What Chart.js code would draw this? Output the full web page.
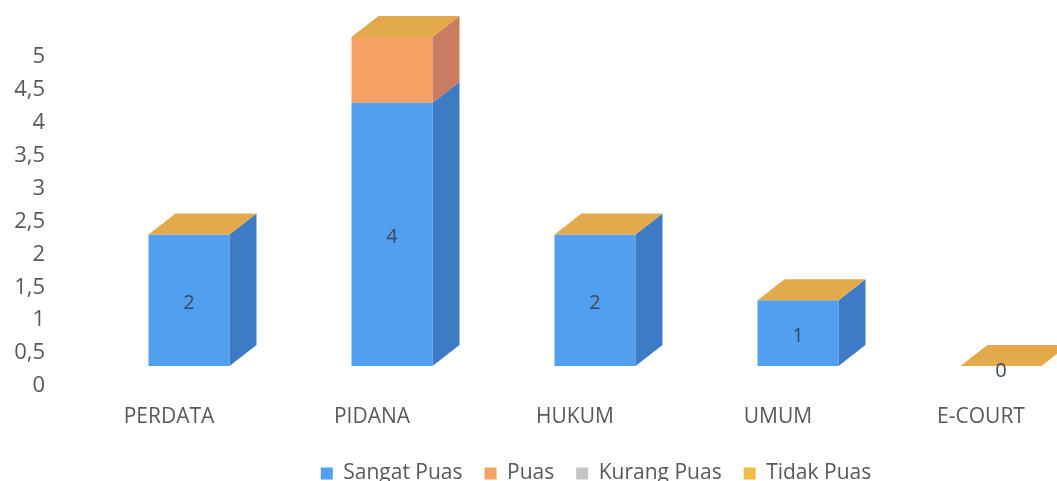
<!DOCTYPE html>
<html>
<head>
<meta charset="utf-8">
<style>
html,body{margin:0;padding:0;background:#fff;overflow:hidden;width:1057px;height:481px}
#wrap{position:relative;width:1057px;height:481px;overflow:hidden}
canvas{display:block;filter:blur(0.5px)}
</style>
<script src="https://cdn.jsdelivr.net/npm/chart.js@4"></script>
</head>
<body>
<div id="wrap"><canvas id="c" width="1192" height="481"></canvas></div>
<script>
const categories = ['PERDATA','PIDANA','HUKUM','UMUM','E-COURT'];
const seriesNames = ['Sangat Puas','Puas','Kurang Puas','Tidak Puas'];
const sangatPuas = [2,4,2,1,0];
const puas = [0,1,0,0,0];
const kurangPuas = [0,0,0,0,0];
const tidakPuas = [0,0,0,0,0];
const frontColors = ['#529ff0','#f5a264','#c4c4c4','#eebd45'];
const sideColors = ['#3d7cc4','#c97c62','#9a9a9a','#c89a30'];
const topColor = '#e3aa4b';
const textColor = '#595959';
const fontFamily = '"Open Sans", sans-serif';
const shiftX = 20, liftY = 20, depthX = 27, depthY = 21;

function poly(ctx, pts, color){
  ctx.beginPath();
  pts.forEach((p,i)=> i ? ctx.lineTo(p[0],p[1]) : ctx.moveTo(p[0],p[1]));
  ctx.closePath();
  ctx.fillStyle = color;
  ctx.fill();
}

const bars3d = {
  id:'bars3d',
  afterLayout(chart){
    chart.legend.left += 109.5;
  },
  beforeDatasetsDraw(chart){
    chart.ctx.save();
    chart.ctx.translate(shiftX,-liftY);
  },
  afterDatasetsDraw(chart){
    const ctx = chart.ctx;
    const metas = chart.data.datasets.map((d,i)=>chart.getDatasetMeta(i));
    metas.forEach((m,di)=>{
      m.data.forEach(el=>{
        const p = el.getProps(['x','y','base','width'],true);
        if (Math.abs(p.base-p.y) < 0.5) return;
        const r = p.x+p.width/2;
        poly(ctx,[[r,p.y],[r+depthX,p.y-depthY],[r+depthX,p.base-depthY],[r,p.base]],sideColors[di]);
      });
    });
    const last = metas[metas.length-1];
    last.data.forEach(el=>{
      const p = el.getProps(['x','y','width'],true);
      const l = p.x-p.width/2, r = p.x+p.width/2;
      poly(ctx,[[l,p.y],[r,p.y],[r+depthX,p.y-depthY],[l+depthX,p.y-depthY]],topColor);
    });
    ctx.font = '20px '+fontFamily;
    ctx.fillStyle = '#3b4a60';
    ctx.textAlign = 'center';
    ctx.textBaseline = 'middle';
    metas[0].data.forEach((el,i)=>{
      const p = el.getProps(['x','y','base'],true);
      const v = sangatPuas[i];
      ctx.fillText(String(v), p.x, v===0 ? p.base+5 : (p.y+p.base)/2+3);
    });
    ctx.restore();
  }
};

new Chart(document.getElementById('c'),{
  type:'bar',
  data:{
    labels:categories,
    datasets:[sangatPuas,puas,kurangPuas,tidakPuas].map((vals,i)=>({
      label:seriesNames[i],
      data:vals,
      backgroundColor:frontColors[i],
      borderWidth:0,
      barPercentage:1,
      categoryPercentage:0.399
    }))
  },
  plugins:[bars3d],
  options:{
    responsive:false,
    animation:false,
    layout:{padding:{top:57,right:109.5,left:0,bottom:-13}},
    plugins:{
      legend:{
        position:'bottom',
        labels:{boxWidth:12,boxHeight:12,padding:22,color:textColor,font:{family:fontFamily,size:21}}
      },
      tooltip:{enabled:false}
    },
    scales:{
      x:{
        stacked:true,
        afterFit(s){s.height=55;},
        grid:{display:false},
        border:{display:false},
        ticks:{color:textColor,padding:10,maxRotation:0,font:{family:fontFamily,size:21}}
      },
      y:{
        stacked:true,
        min:0,max:5,
        afterFit(s){s.width=67.5;},
        grid:{display:false,drawTicks:false},
        border:{display:false},
        ticks:{
          stepSize:0.5,
          padding:22.5,
          color:textColor,
          font:{family:fontFamily,size:22},
          callback:v=>String(v).replace('.',',')
        }
      }
    }
  }
});
</script>
</body>
</html>
